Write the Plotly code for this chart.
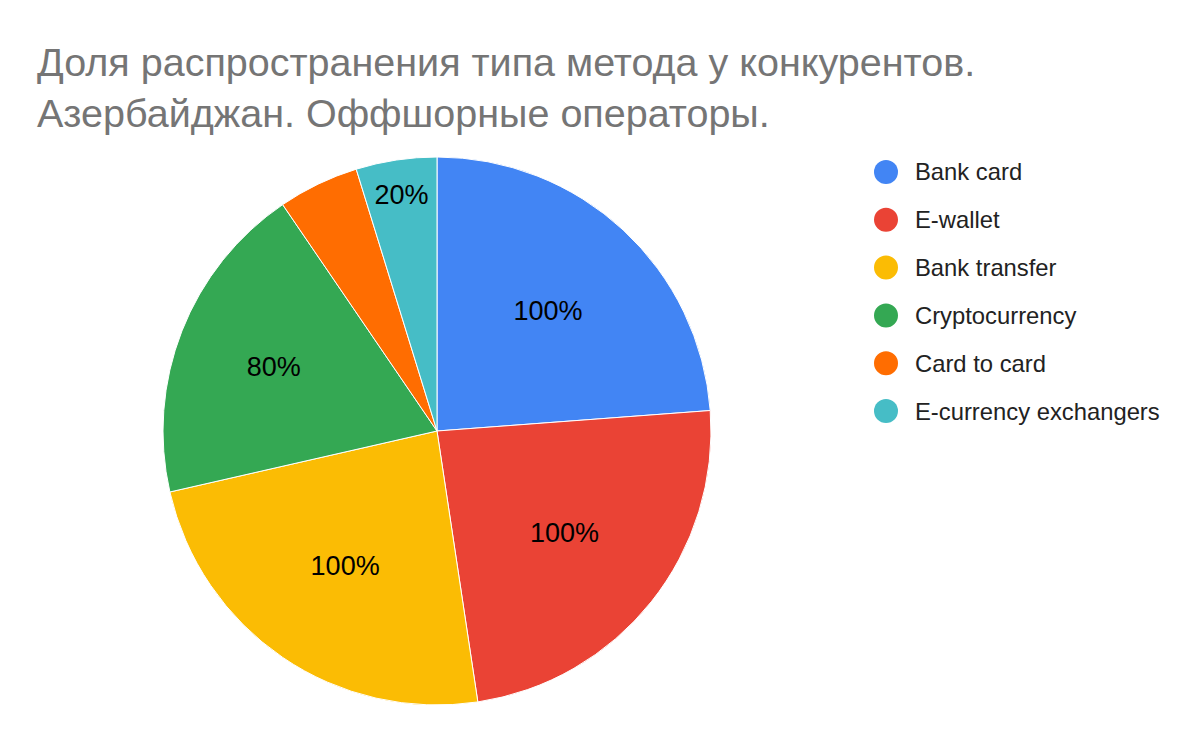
import plotly.graph_objects as go

# Data
methods = ["Bank card", "E-wallet", "Bank transfer", "Cryptocurrency", "Card to card", "E-currency exchangers"]
shares = [100, 100, 100, 80, 20, 20]
colors = ["#4285F4", "#EA4335", "#FBBC04", "#34A853", "#FF6D01", "#46BDC6"]

title = "Доля распространения типа метода у конкурентов.<br>Азербайджан. Оффшорные операторы."

W, H = 1200, 742
OFF = 8  # page body margin shifts everything by 8px

# labels inside slices, the card-to-card one is hidden in the original
labels_text = [f"{v}%" for v in shares]
labels_text[methods.index("Card to card")] = ""

cx, cy, r = 437 - OFF, 431 - OFF, 274

fig = go.Figure()
fig.add_trace(go.Pie(
    labels=methods,
    values=shares,
    text=labels_text,
    textinfo="text",
    textposition="inside",
    insidetextorientation="horizontal",
    textfont=dict(size=27, color="#000000", family="Liberation Sans, Arial"),
    marker=dict(colors=colors, line=dict(color="#ffffff", width=1)),
    sort=False,
    direction="clockwise",
    rotation=0,
    showlegend=False,
    hoverinfo="label+value",
    domain=dict(x=[(cx - r) / W, (cx + r) / W], y=[(H - cy - r) / H, (H - cy + r) / H]),
))

# legend drawn by hand to get large round markers
shapes = []
annotations = []
for i, (name, col) in enumerate(zip(methods, colors)):
    ly = 1 - (172 - OFF + i * 47.8) / H
    shapes.append(dict(
        type="circle", xref="paper", yref="paper",
        xsizemode="pixel", ysizemode="pixel",
        xanchor=(886 - OFF) / W, yanchor=ly,
        x0=-12, x1=12, y0=-12, y1=12,
        fillcolor=col, line=dict(width=0),
    ))
    annotations.append(dict(
        x=(913 - OFF) / W, y=ly, xref="paper", yref="paper",
        text=name, showarrow=False, xanchor="left", yanchor="middle",
        font=dict(size=23.8, color="#222222", family="Liberation Sans, Arial"),
    ))

fig.update_layout(
    width=W, height=H,
    margin=dict(l=0, r=0, t=0, b=0),
    paper_bgcolor="#ffffff",
    plot_bgcolor="#ffffff",
    title=dict(
        text=title, x=(37 - OFF) / W, xanchor="left", y=1 - (76 - OFF) / H, yanchor="top",
        font=dict(size=39.5, color="#757575", family="Liberation Sans, Arial"),
    ),
    shapes=shapes,
    annotations=annotations,
)

fig.write_html("out.html")
